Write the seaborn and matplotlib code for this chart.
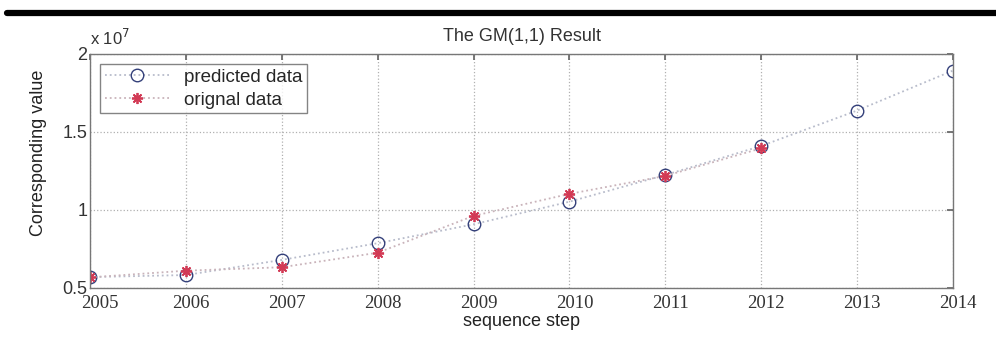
import matplotlib
matplotlib.use("Agg")
import matplotlib.pyplot as plt
import matplotlib.transforms as mtransforms
import seaborn as sns
import pandas as pd
from matplotlib.ticker import FuncFormatter

years = [2005, 2006, 2007, 2008, 2009, 2010, 2011, 2012, 2013, 2014]
predicted = [0.570e7, 0.583e7, 0.680e7, 0.787e7, 0.908e7, 1.053e7, 1.224e7, 1.410e7, 1.637e7, 1.893e7]
orig_years = [2005, 2006, 2007, 2008, 2009, 2010, 2011, 2012]
original = [0.568e7, 0.611e7, 0.633e7, 0.726e7, 0.962e7, 1.103e7, 1.218e7, 1.395e7]

sns.set_theme(style="white")
plt.rcParams['font.family'] = ['Liberation Sans', 'DejaVu Sans']

fig = plt.figure(figsize=(9.96, 3.51), dpi=100)
ax = fig.add_axes([0.0904, 0.1795, 0.8664, 0.667])

# black rule across the top of the page
fig.add_artist(plt.Line2D([0.007, 1.0], [0.963, 0.963], transform=fig.transFigure,
                          color="black", linewidth=4.5))

pred_df = pd.DataFrame({"year": years, "value": predicted})
orig_df = pd.DataFrame({"year": orig_years, "value": original})

sns.lineplot(data=pred_df, x="year", y="value", ax=ax, color="#b8bccb", linestyle=":",
             linewidth=1.3, marker="o", markersize=9, markerfacecolor="none",
             markeredgecolor="#34407a", markeredgewidth=1.0, label="predicted data")
sns.lineplot(data=orig_df, x="year", y="value", ax=ax, color="#c9b3ba", linestyle=":",
             linewidth=1.3, marker=(8, 2, 0), markersize=8, markerfacecolor="#d23a55",
             markeredgecolor="#d23a55", markeredgewidth=1.3, label="orignal data")

ax.set_xlim(2005, 2014)
ax.set_ylim(0.5e7, 2e7)
ax.set_xticks(years)
ax.set_yticks([0.5e7, 1e7, 1.5e7, 2e7])
ax.yaxis.set_major_formatter(FuncFormatter(lambda v, p: f"{v/1e7:g}"))
ax.tick_params(axis="y", labelsize=13, colors="#333333", pad=2)
ax.tick_params(axis="x", colors="#333333", pad=5)
ax.tick_params(direction="in", length=4, top=True, right=True, color="#666666")
for i, lbl in enumerate(ax.get_xticklabels()):
    lbl.set_fontfamily("Liberation Serif")
    lbl.set_fontsize(13.5)
    dx = 10 if i == 0 else 5
    lbl.set_transform(lbl.get_transform() +
                      mtransforms.ScaledTranslation(dx / 100, 0, fig.dpi_scale_trans))

ax.grid(True, linestyle=":", color="#b0b0b0", linewidth=0.9)
for sp in ax.spines.values():
    sp.set_color("#777777")
    sp.set_linewidth(1.0)

ax.set_title("The GM(1,1) Result", fontsize=13, color="#333333", pad=9)
ax.set_xlabel("sequence step", fontsize=13, color="#222222", labelpad=1)
ax.set_ylabel("Corresponding value", fontsize=13, color="#222222")
ax.yaxis.set_label_coords(-0.05, 0.577)
ax.text(0.0, 1.025, r"x 10$^7$", transform=ax.transAxes, fontsize=12, color="#333333",
        ha="left", va="bottom")

leg = ax.legend(loc="upper left", bbox_to_anchor=(0.0, 1.0), fontsize=13.5, frameon=True,
                fancybox=False, edgecolor="#666666", borderpad=0.25, handlelength=3.4,
                labelspacing=0.3, borderaxespad=0.55)
leg.get_frame().set_linewidth(1.0)

fig.savefig("out.png", dpi=100)
